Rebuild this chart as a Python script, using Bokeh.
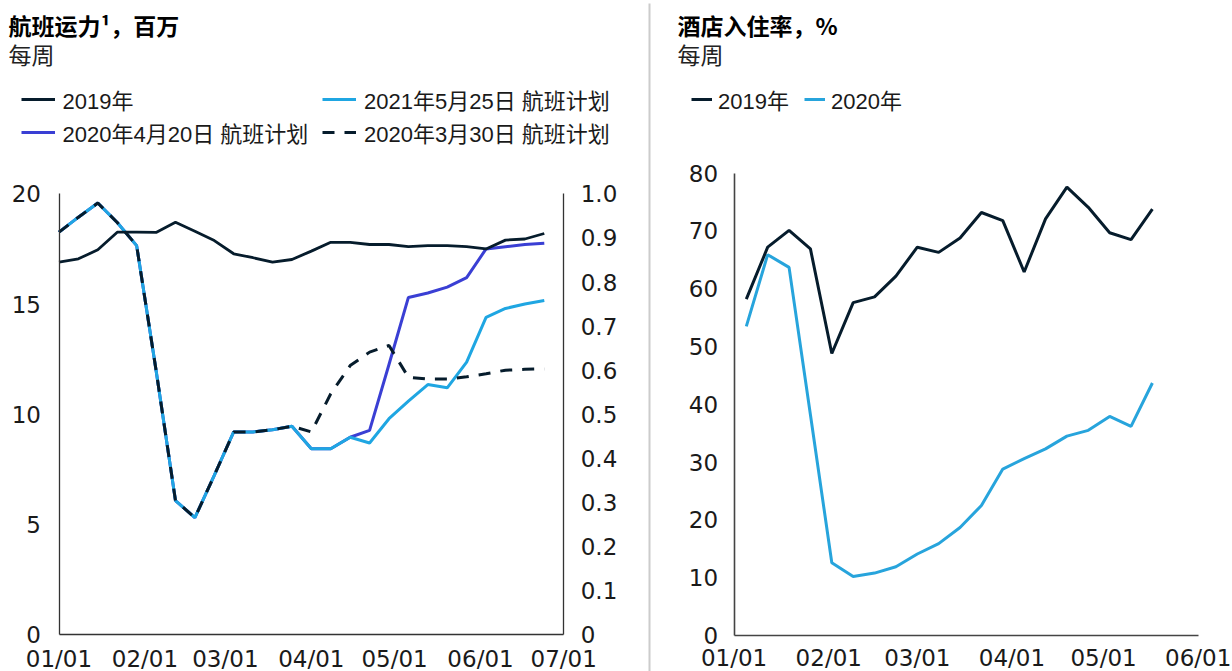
from datetime import datetime
import pandas as pd
from bokeh.plotting import figure
from bokeh.models import (Range1d, LinearAxis, DatetimeAxis, FixedTicker, DatetimeTickFormatter,
                          Legend, LegendItem, Label, BoxAnnotation, ColumnDataSource)
from bokeh.layouts import row
from bokeh.embed import file_html
from bokeh.resources import INLINE

# ---------------- data ----------------
air_weeks = list(pd.date_range("2020-01-01", periods=26, freq="7D"))
air_2019 = [16.9, 17.05, 17.46, 18.26, 18.26, 18.25, 18.71, 18.3, 17.88, 17.28, 17.1, 16.9, 17.02,
            17.4, 17.8, 17.8, 17.7, 17.7, 17.6, 17.65, 17.65, 17.6, 17.5, 17.9, 17.95, 18.2]
air_plan_0525 = [18.26, 18.94, 19.58, 18.7, 17.65, 12.0, 6.09, 5.31, 7.23, 9.2, 9.2, 9.3, 9.46,
                 8.44, 8.44, 8.96, 8.7, 9.8, 10.6, 11.35, 11.2, 12.37, 14.4, 14.8, 15.0, 15.16]
air_plan_0420 = [18.26, 18.94, 19.58, 18.7, 17.65, 12.0, 6.09, 5.31, 7.23, 9.2, 9.2, 9.3, 9.46,
                 8.44, 8.44, 8.96, 9.27, 12.26, 15.3, 15.5, 15.77, 16.2, 17.5, 17.6, 17.7, 17.76]
air_plan_0330 = [18.26, 18.94, 19.58, 18.7, 17.65, 12.0, 6.09, 5.31, 7.23, 9.2, 9.2, 9.3, 9.46,
                 9.2, 10.93, 12.21, 12.82, 13.12, 11.68, 11.6, 11.6, 11.7, 11.84, 12.0, 12.04, 12.06]

hotel_weeks = list(pd.date_range("2020-01-05", periods=20, freq="7D"))
hotel_2019 = [58.2, 67.2, 70.1, 66.9, 48.8, 57.6, 58.6, 62.2, 67.2, 66.3,
              68.8, 73.2, 71.8, 62.9, 72.1, 77.6, 74.1, 69.7, 68.5, 73.8]
hotel_2020 = [53.5, 65.9, 63.7, 38.2, 12.6, 10.2, 10.8, 11.9, 14.1, 15.9,
              18.7, 22.5, 28.8, 30.6, 32.3, 34.5, 35.5, 37.9, 36.2, 43.7]

left_ticks = [0, 5, 10, 15, 20]
right_ticks = [0.0, 0.1, 0.2, 0.3, 0.4, 0.5, 0.6, 0.7, 0.8, 0.9, 1.0]
right_tick_labels = ["0", "0.1", "0.2", "0.3", "0.4", "0.5", "0.6", "0.7", "0.8", "0.9", "1.0"]
hotel_ticks = [0, 10, 20, 30, 40, 50, 60, 70, 80]
air_month_ticks = [datetime(2020, m, 1) for m in range(1, 8)]
hotel_month_ticks = [datetime(2020, m, 1) for m in range(1, 7)]

labels_air = ["2019年", "2021年5月25日 航班计划", "2020年4月20日 航班计划", "2020年3月30日 航班计划"]
labels_hotel = ["2019年", "2020年"]

# ---------------- style ----------------
NAVY = "#061C2C"
CYAN = "#1FA6E2"
BLUE = "#3A3FD4"
HCYAN = "#27A4DC"
TICK_FONT = "DejaVu Sans"
TICK_SIZE = "23px"
LEG_FONT = "Liberation Sans, Noto Sans CJK SC"
CJK = "Noto Sans CJK SC"
H = 671
DAY = 86400000.0


def ms(d):
    return (pd.Timestamp(d) - pd.Timestamp("1970-01-01")).total_seconds() * 1000.0


def style_axis(ax, standoff, color="#333333", width=1.3):
    ax.axis_line_color = color
    ax.axis_line_width = width
    ax.major_tick_line_color = None
    ax.minor_tick_line_color = None
    ax.major_tick_out = 0
    ax.major_tick_in = 0
    ax.minor_tick_out = 0
    ax.minor_tick_in = 0
    ax.major_label_text_font = TICK_FONT
    ax.major_label_text_font_size = TICK_SIZE
    ax.major_label_text_color = "#1a1a1a"
    ax.major_label_standoff = standoff


def date_formatter():
    f = "%m/%d"
    return DatetimeTickFormatter(days=f, months=f, years=f, hours=f, minutes=f,
                                 seconds=f, milliseconds=f, microseconds=f, hourmin=f,
                                 minsec=f, strip_leading_zeros=False)


def add_leg(p, label, rend, x, y_center, gw, standoff):
    leg = Legend(items=[LegendItem(label=label, renderers=[rend])],
                 location=(x, H - (y_center + 13)),
                 orientation="vertical", padding=0, margin=0, spacing=0,
                 glyph_width=gw, glyph_height=26, label_height=26, label_standoff=standoff,
                 label_text_font=LEG_FONT, label_text_font_size="22px",
                 label_text_color="#1a1a1a", border_line_color=None,
                 background_fill_alpha=0)
    p.add_layout(leg)


def add_text(p, x, y_center, text, bold):
    p.add_layout(Label(x=x, y=H - y_center, x_units="screen", y_units="screen",
                       text=text, text_font=CJK, text_font_size="23px",
                       text_font_style="bold" if bold else "normal",
                       text_baseline="middle", text_align="left",
                       text_color="#000000" if bold else "#222222"))


# ---------------- left chart (canvas x 0..651) ----------------
W1 = 651
X0, X1 = 58.5, 563.2          # pixel of 01/01 and 07/01
Y_TOP, Y_ZERO = 193.3, 634.3  # pixel of 20 and 0
jan1, jul1 = ms(datetime(2020, 1, 1)), ms(datetime(2020, 7, 1))
mpp = (jul1 - jan1) / (X1 - X0)
upp = 20.0 / (Y_ZERO - Y_TOP)

p1 = figure(width=W1, height=H, title=None, x_axis_type="datetime",
            x_axis_location=None, y_axis_location=None,
            min_border_left=0, min_border_right=0, min_border_top=0, min_border_bottom=0,
            x_range=Range1d(jan1 - X0 * mpp, jan1 + (W1 - X0) * mpp),
            y_range=Range1d(-(H - Y_ZERO) * upp, Y_ZERO * upp),
            toolbar_location=None, output_backend="svg")
p1.outline_line_color = None
p1.grid.visible = False
p1.extra_y_ranges = {"share": Range1d(-(H - Y_ZERO) * upp / 20.0, Y_ZERO * upp / 20.0)}

src1 = ColumnDataSource(dict(x=air_weeks, y2019=air_2019, p0525=air_plan_0525,
                             p0420=air_plan_0420, p0330=air_plan_0330))
r_blue = p1.line("x", "p0420", source=src1, line_color=BLUE, line_width=3)
r_cyan = p1.line("x", "p0525", source=src1, line_color=CYAN, line_width=3)
r_dash = p1.line("x", "p0330", source=src1, line_color=NAVY, line_width=3, line_dash="12 10")
r_2019 = p1.line("x", "y2019", source=src1, line_color=NAVY, line_width=2.8)

xa1 = DatetimeAxis(fixed_location=0, bounds=(jan1, jul1),
                   ticker=FixedTicker(ticks=[ms(d) for d in air_month_ticks]),
                   formatter=date_formatter())
style_axis(xa1, 11)
p1.add_layout(xa1, "below")

ya1 = LinearAxis(fixed_location=jan1, bounds=(0, 20), ticker=FixedTicker(ticks=left_ticks))
style_axis(ya1, 18)
p1.add_layout(ya1, "left")

ya1r = LinearAxis(y_range_name="share", fixed_location=jul1, bounds=(0, 1),
                  ticker=FixedTicker(ticks=right_ticks),
                  major_label_overrides={t: l for t, l in zip(right_ticks, right_tick_labels)})
style_axis(ya1r, 17)
p1.add_layout(ya1r, "right")

add_text(p1, 8, 24, "航班运力¹，百万", True)
add_text(p1, 8, 53, "每周", False)
add_leg(p1, labels_air[0], r_2019, 20.5, 101.7, 34, 8)
add_leg(p1, labels_air[1], r_cyan, 322, 101.7, 34, 8)
add_leg(p1, labels_air[2], r_blue, 20.5, 135, 34, 8)
add_leg(p1, labels_air[3], r_dash, 322, 135, 34, 8)

# separator between the two panels
p1.add_layout(BoxAnnotation(left=648, right=650, top=H - 3, bottom=-5,
                            left_units="screen", right_units="screen",
                            top_units="screen", bottom_units="screen",
                            fill_color="#cccccc", fill_alpha=1, line_color=None))

# ---------------- right chart (canvas x 651..1232) ----------------
W2 = 1232 - W1
HX0, HX1 = 733.6 - W1, 1197.7 - W1    # pixel of 01/01 and 06/01
HY_TOP, HY_ZERO = 172.7, 635.0        # pixel of 80 and 0
jun1 = ms(datetime(2020, 6, 1))
mpp2 = (jun1 - jan1) / (HX1 - HX0)
upp2 = 80.0 / (HY_ZERO - HY_TOP)

p2 = figure(width=W2, height=H, title=None, x_axis_type="datetime",
            x_axis_location=None, y_axis_location=None,
            min_border_left=0, min_border_right=0, min_border_top=0, min_border_bottom=0,
            x_range=Range1d(jan1 - HX0 * mpp2, jan1 + (W2 - HX0) * mpp2),
            y_range=Range1d(-(H - HY_ZERO) * upp2, HY_ZERO * upp2),
            toolbar_location=None, output_backend="svg")
p2.outline_line_color = None
p2.grid.visible = False

src2 = ColumnDataSource(dict(x=hotel_weeks, h2019=hotel_2019, h2020=hotel_2020))
h_2020 = p2.line("x", "h2020", source=src2, line_color=HCYAN, line_width=3)
h_2019 = p2.line("x", "h2019", source=src2, line_color=NAVY, line_width=3)

xa2 = DatetimeAxis(fixed_location=0, bounds=(jan1, jun1),
                   ticker=FixedTicker(ticks=[ms(d) for d in hotel_month_ticks]),
                   formatter=date_formatter())
style_axis(xa2, 9, "#444444", 1.6)
p2.add_layout(xa2, "below")

ya2 = LinearAxis(fixed_location=jan1, bounds=(0, 80), ticker=FixedTicker(ticks=hotel_ticks))
style_axis(ya2, 16, "#444444", 1.6)
p2.add_layout(ya2, "left")

add_text(p2, 677 - W1, 24, "酒店入住率，%", True)
add_text(p2, 677 - W1, 53, "每周", False)
add_leg(p2, labels_hotel[0], h_2019, 691 - W1, 101.7, 21, 6)
add_leg(p2, labels_hotel[1], h_2020, 804 - W1, 101.7, 21, 6)

layout = row(p1, p2)
open("out.html", "w").write(file_html(layout, INLINE))
